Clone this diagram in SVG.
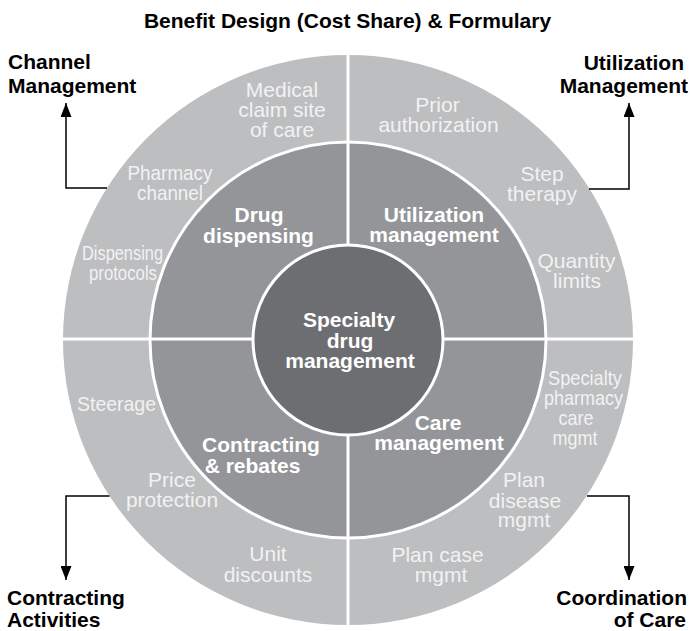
<svg xmlns="http://www.w3.org/2000/svg" width="690" height="631" viewBox="0 0 690 631">
<style>
.lbl{font-family:"Liberation Sans",Arial,sans-serif;font-weight:bold;font-size:21px;fill:#000}
.out{font-family:"Liberation Sans",Arial,sans-serif;font-size:21px;fill:#f2f2f2;text-anchor:middle}
.mid{font-family:"Liberation Sans",Arial,sans-serif;font-weight:bold;font-size:21px;fill:#fff;text-anchor:middle}
.div{stroke:#fff;stroke-width:3;fill:none}
.con{stroke:#000;stroke-width:1.5;fill:none;marker-end:url(#arr)}
</style>
<defs>
<marker id="arr" markerUnits="userSpaceOnUse" markerWidth="14" markerHeight="11" refX="14" refY="5.5" orient="auto">
<path d="M0,0 L14,5.5 L0,11 z" fill="#000"/>
</marker>
</defs>
<rect width="690" height="631" fill="#fff"/>
<text class="lbl" x="347.5" y="28" text-anchor="middle" font-size="21.5">Benefit Design (Cost Share) &amp; Formulary</text>

<g id="outer-ring">
<circle cx="348" cy="340" r="285" fill="#bcbec0"/>
</g>
<g id="middle-ring">
<circle cx="348" cy="340" r="198" fill="#939598" stroke="#fff" stroke-width="3"/>
</g>
<g id="dividers">
<path class="div" d="M348 54V245M348 435V626M62 339H253M443 339H634"/>
</g>
<g id="center">
<circle cx="348" cy="340" r="95" fill="#6d6e71" stroke="#fff" stroke-width="3"/>
<text class="mid" x="349" y="327">Specialty</text>
<text class="mid" x="350" y="348">drug</text>
<text class="mid" x="350" y="368">management</text>
</g>

<g id="drug-dispensing">
<text class="mid" x="259" y="222">Drug</text>
<text class="mid" x="258.5" y="243">dispensing</text>
</g>
<g id="utilization-management">
<text class="mid" x="434" y="222">Utilization</text>
<text class="mid" x="434" y="242">management</text>
</g>
<g id="care-management">
<text class="mid" x="438" y="430">Care</text>
<text class="mid" x="439" y="450">management</text>
</g>
<g id="contracting-rebates">
<text class="mid" x="261" y="452">Contracting</text>
<text class="mid" x="252.5" y="473">&amp; rebates</text>
</g>

<g id="medical-claim">
<text class="out" x="282" y="97">Medical</text>
<text class="out" x="282" y="117">claim site</text>
<text class="out" x="282" y="137">of care</text>
</g>
<g id="pharmacy-channel">
<text class="out" x="170" y="180" textLength="85" lengthAdjust="spacingAndGlyphs">Pharmacy</text>
<text class="out" x="170" y="200" textLength="66" lengthAdjust="spacingAndGlyphs">channel</text>
</g>
<g id="dispensing-protocols">
<text class="out" x="122.5" y="260" textLength="81" lengthAdjust="spacingAndGlyphs">Dispensing</text>
<text class="out" x="123" y="280" textLength="68" lengthAdjust="spacingAndGlyphs">protocols</text>
</g>
<g id="prior-authorization">
<text class="out" x="437.5" y="112">Prior</text>
<text class="out" x="438.5" y="132">authorization</text>
</g>
<g id="step-therapy">
<text class="out" x="542" y="181">Step</text>
<text class="out" x="542" y="201">therapy</text>
</g>
<g id="quantity-limits">
<text class="out" x="576.5" y="268">Quantity</text>
<text class="out" x="577" y="288">limits</text>
</g>
<g id="specialty-pharmacy-care">
<text class="out" x="585" y="385" textLength="74" lengthAdjust="spacingAndGlyphs">Specialty</text>
<text class="out" x="583.5" y="405" textLength="79" lengthAdjust="spacingAndGlyphs">pharmacy</text>
<text class="out" x="576" y="425" textLength="35" lengthAdjust="spacingAndGlyphs">care</text>
<text class="out" x="575" y="445" textLength="45" lengthAdjust="spacingAndGlyphs">mgmt</text>
</g>
<g id="plan-disease">
<text class="out" x="524" y="487">Plan</text>
<text class="out" x="525" y="508">disease</text>
<text class="out" x="524" y="527">mgmt</text>
</g>
<g id="plan-case">
<text class="out" x="437.5" y="562">Plan case</text>
<text class="out" x="441" y="582">mgmt</text>
</g>
<g id="steerage">
<text class="out" x="116.5" y="411" textLength="79" lengthAdjust="spacingAndGlyphs">Steerage</text>
</g>
<g id="price-protection">
<text class="out" x="172" y="487">Price</text>
<text class="out" x="172" y="507">protection</text>
</g>
<g id="unit-discounts">
<text class="out" x="268" y="561">Unit</text>
<text class="out" x="268" y="582">discounts</text>
</g>

<g id="channel-management">
<text class="lbl" x="8" y="69">Channel</text>
<text class="lbl" x="8" y="93">Management</text>
</g>
<g id="utilization-label">
<text class="lbl" x="684" y="70" text-anchor="end">Utilization</text>
<text class="lbl" x="688" y="93" text-anchor="end">Management</text>
</g>
<g id="contracting-activities">
<text class="lbl" x="7" y="605">Contracting</text>
<text class="lbl" x="7" y="627">Activities</text>
</g>
<g id="coordination-of-care">
<text class="lbl" x="687" y="605" text-anchor="end">Coordination</text>
<text class="lbl" x="686" y="627" text-anchor="end">of Care</text>
</g>

<g id="connectors">
<path class="con" d="M107 188H66V103"/>
<path class="con" d="M589 189H629V103"/>
<path class="con" d="M109.5 496H66V580"/>
<path class="con" d="M587 496H629V580"/>
</g>
</svg>
